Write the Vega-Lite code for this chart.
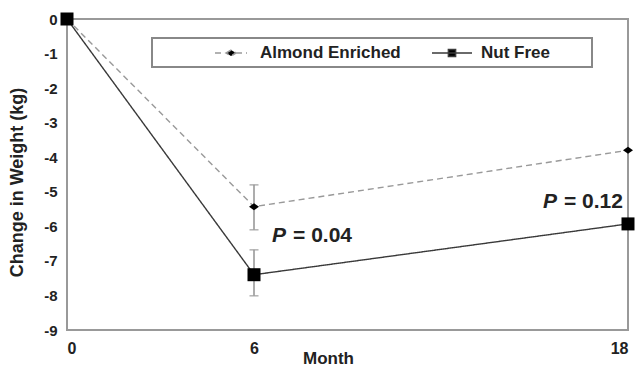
{
  "$schema": "https://vega.github.io/schema/vega-lite/v6.json",
  "autosize": "none",
  "width": 561,
  "height": 311,
  "padding": {"left": 67, "top": 19, "right": 13, "bottom": 37},
  "background": "white",
  "config": {
    "font": "Liberation Sans",
    "view": {"stroke": "#999999", "strokeWidth": 2},
    "axis": {"domain": false, "ticks": false, "grid": false, "labelFontWeight": "bold", "labelColor": "#222222", "titleFontWeight": "bold", "titleColor": "#222222"}
  },
  "datasets": {
    "weights": [
      {"group": "Almond Enriched", "month": 0, "weight": 0},
      {"group": "Almond Enriched", "month": 6, "weight": -5.43, "lo": -4.8, "hi": -6.1},
      {"group": "Almond Enriched", "month": 18, "weight": -3.8},
      {"group": "Nut Free", "month": 0, "weight": 0},
      {"group": "Nut Free", "month": 6, "weight": -7.4, "lo": -6.68, "hi": -8.01},
      {"group": "Nut Free", "month": 18, "weight": -5.93}
    ],
    "notes": [
      {"month": 6.58, "weight": -6.28, "p": "P", "rest": "= 0.04"},
      {"month": 15.27, "weight": -5.3, "p": "P", "rest": "= 0.12"}
    ]
  },
  "encoding": {
    "x": {"field": "month", "type": "quantitative", "scale": {"domain": [0, 18], "nice": false, "zero": false},
      "axis": {"values": [0, 6, 18], "title": "Month", "labelFontSize": 16, "labelFontWeight": "bold", "labelPadding": 10, "titleFontSize": 17, "titleX": 261, "titleY": 33, "titleBaseline": "alphabetic"}},
    "y": {"field": "weight", "type": "quantitative", "scale": {"domain": [-9, 0], "nice": false},
      "axis": {"values": [-9, -8, -7, -6, -5, -4, -3, -2, -1, 0], "labelExpr": "toString(datum.value)", "title": "Change in Weight (kg)", "labelFontSize": 15, "labelFontWeight": "bold", "labelPadding": 10, "titleFontSize": 18, "titleX": -50, "titleY": 163, "titleBaseline": "middle"}}
  },
  "layer": [
    {
      "data": {"name": "weights"},
      "mark": {"type": "line", "strokeWidth": 1.4},
      "encoding": {
        "color": {"field": "group", "type": "nominal",
          "scale": {"domain": ["Almond Enriched", "Nut Free"], "range": ["#999999", "#3a3a3a"]},
          "legend": {
            "orient": "none", "legendX": 85, "legendY": 19, "direction": "horizontal",
            "title": "\u00a0", "titleOrient": "left", "titlePadding": 64, "titleFontSize": 10,
            "padding": 6, "strokeColor": "#888888", "fillColor": "white",
            "symbolType": "M-2.5,0H2.5M-0.45,-0.45H0.45V0.45H-0.45Z",
            "symbolSize": 256, "symbolStrokeWidth": 1.5, "symbolFillColor": "black",
            "labelFontWeight": "bold", "labelFontSize": 17, "labelColor": "#222222", "labelOffset": 20, "columnPadding": 28, "labelLimit": 400,
            "labelExpr": "datum.label == 'Nut Free' ? 'Nut Free\u2800\u2800\u2800' : datum.label",
            "encode": {
              "symbols": {"update": {
                "shape": {"signal": "datum.value == 'Nut Free' ? 'M-2.5,0H2.5M-0.45,-0.45H0.45V0.45H-0.45Z' : 'M-2,0H-0.875M-0.625,0L0,-0.375L0.625,0L0,0.375ZM0.625,0H2'"},
                "fill": {"value": "black"}, "fillOpacity": {"value": 1},
                "strokeDash": {"value": [1, 0]},
                "stroke": {"signal": "datum.value == 'Nut Free' ? '#222222' : '#666666'"}
              }},
              "legend": {"update": {"strokeWidth": {"value": 2}}}
            }
          }},
        "strokeDash": {"field": "group", "type": "nominal",
          "scale": {"domain": ["Almond Enriched", "Nut Free"], "range": [[6, 4], [1, 0]]}, "legend": null}
      }
    },
    {
      "data": {"name": "weights"},
      "transform": [{"filter": "isValid(datum.lo)"}],
      "mark": {"type": "rule", "color": "#999999", "strokeWidth": 1.6},
      "encoding": {"y": {"field": "lo", "type": "quantitative"}, "y2": {"field": "hi"}}
    },
    {
      "data": {"name": "weights"},
      "transform": [{"filter": "isValid(datum.lo)"}, {"fold": ["lo", "hi"], "as": ["end", "val"]}],
      "mark": {"type": "tick", "orient": "horizontal", "color": "#999999", "size": 9, "thickness": 1.6},
      "encoding": {"y": {"field": "val", "type": "quantitative"}}
    },
    {
      "data": {"name": "weights"},
      "mark": {"type": "point", "filled": true, "color": "black", "opacity": 1},
      "encoding": {
        "shape": {"condition": {"test": "datum.group == 'Nut Free'", "value": "square"}, "value": "M-1,0L0,-0.7L1,0L0,0.7Z"},
        "size": {"condition": {"test": "datum.group == 'Nut Free'", "value": 169}, "value": 100}
      }
    },
    {
      "data": {"name": "notes"},
      "mark": {"type": "text", "align": "left", "baseline": "middle", "fontSize": 21, "fontWeight": "bold", "fontStyle": "italic", "color": "#222222"},
      "encoding": {"text": {"field": "p"}}
    },
    {
      "data": {"name": "notes"},
      "mark": {"type": "text", "align": "left", "baseline": "middle", "fontSize": 21, "fontWeight": "bold", "dx": 21, "color": "#222222"},
      "encoding": {"text": {"field": "rest"}}
    }
  ]
}
